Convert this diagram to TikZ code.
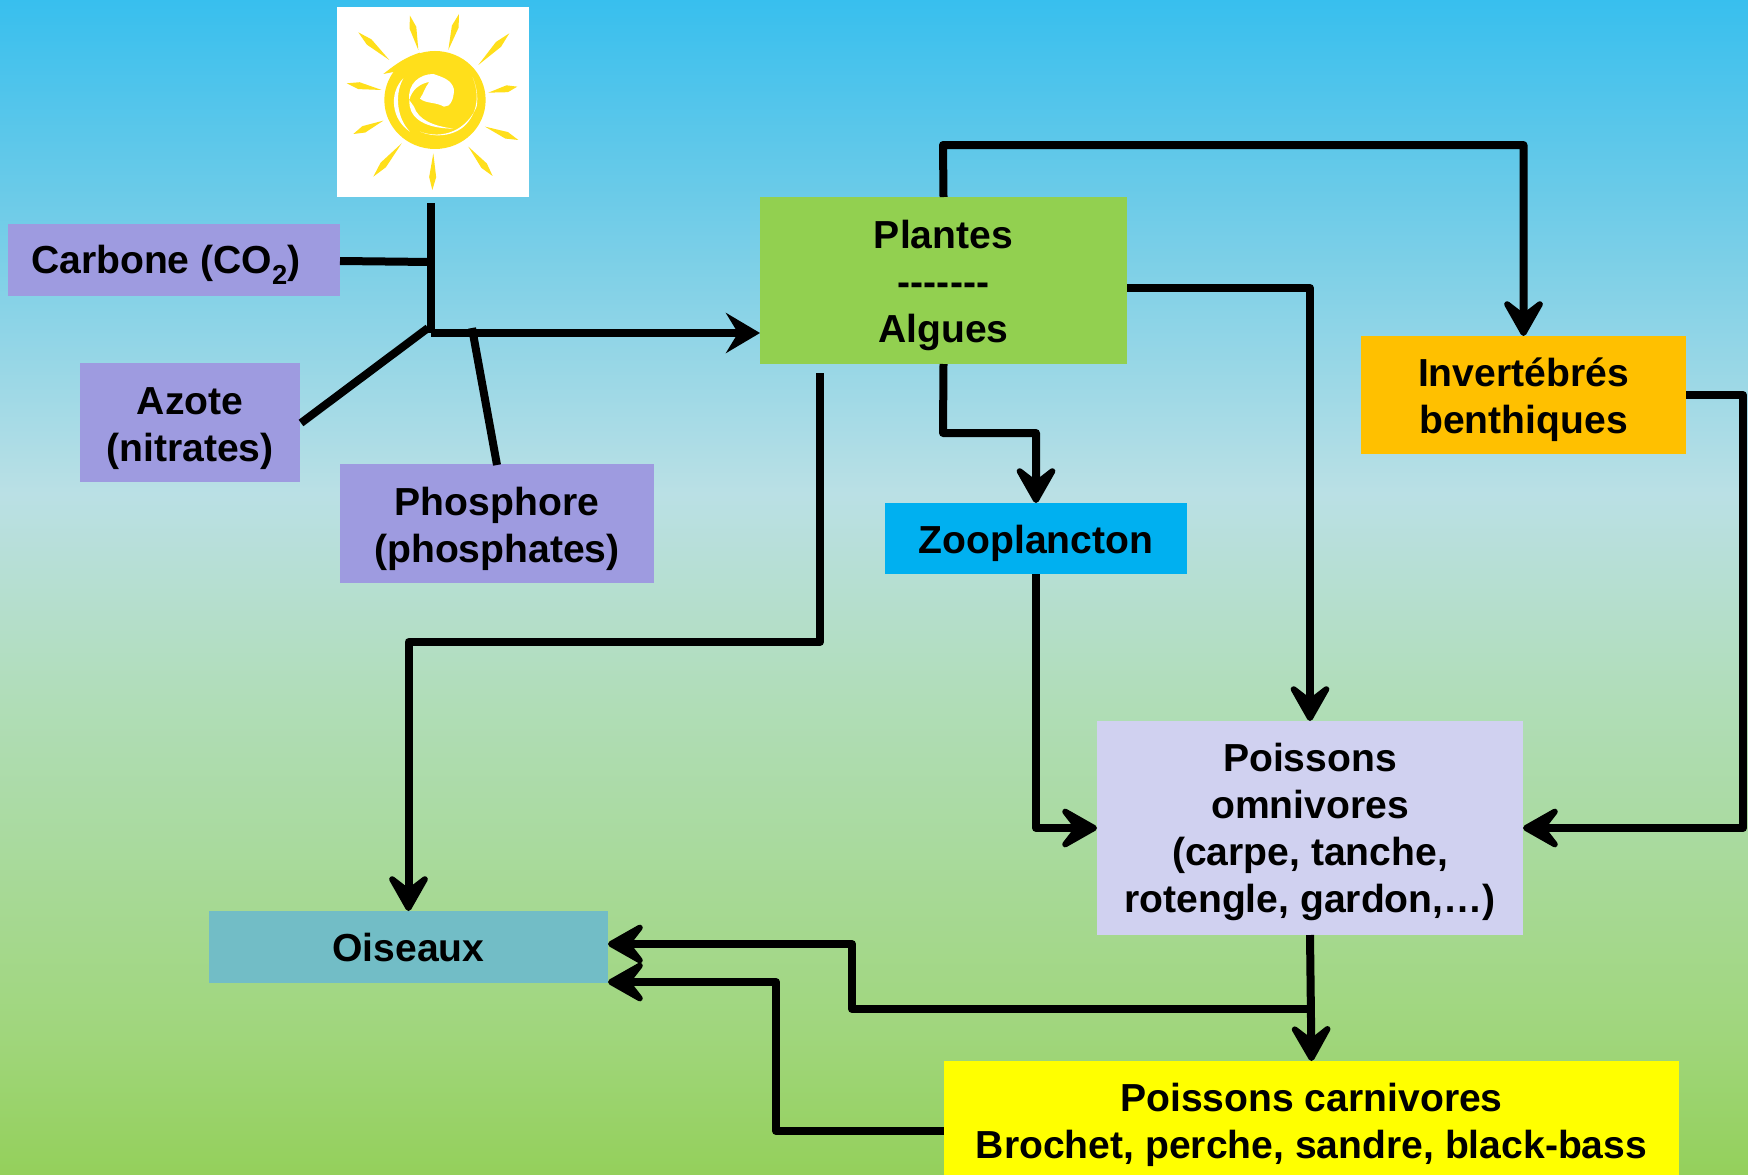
\documentclass[tikz,border=0pt]{standalone}
\usepackage{fontspec}
\setmainfont{Liberation Sans}
\usetikzlibrary{arrows.meta,calc}
\definecolor{bot}{RGB}{148,208,91}
\definecolor{lowb}{RGB}{160,214,124}
\definecolor{lowc}{RGB}{176,221,183}
\definecolor{pale}{RGB}{186,224,229}
\definecolor{upa}{RGB}{108,203,232}
\definecolor{topc}{RGB}{56,191,238}
\pgfdeclareverticalshading{bgshade}{100bp}{
  color(0bp)=(bot);color(25bp)=(bot);color(31bp)=(lowb);color(45bp)=(lowc);color(54bp)=(pale);color(66.5bp)=(upa);color(75bp)=(topc);color(100bp)=(topc)}
\definecolor{nutrient}{RGB}{158,155,224}
\definecolor{plante}{RGB}{146,208,80}
\definecolor{invert}{RGB}{255,192,0}
\definecolor{zoo}{RGB}{0,176,240}
\definecolor{omni}{RGB}{208,209,240}
\definecolor{oiseau}{RGB}{114,189,198}
\definecolor{carni}{RGB}{255,255,0}
\definecolor{soleil}{RGB}{255,223,27}
\newcommand{\topstrut}[1][38pt]{\rule{0pt}{#1}}
\newcommand{\botstrut}{\rule[-8pt]{0pt}{8pt}}
\tikzset{
  box/.style n args={3}{draw=none,fill=#1,minimum width=#2,minimum height=#3,inner sep=0pt,outer sep=0pt,align=center,
    font=\fontsize{39.1}{47}\selectfont\bfseries},
  conn/.style={line width=8pt,line join=round,draw=black},
  arr/.style={conn,-{Stealth[length=46pt,width=52pt,inset=20pt,round,line width=6pt]}},
  arrs/.style={conn,-{Stealth[length=34pt,width=40pt,inset=12pt]}},
  ray/.style={fill=soleil,draw=none}
}
\begin{document}
\begin{tikzpicture}[x=1pt,y=-1pt]
\useasboundingbox (0,0) rectangle (1748,1175);
\shade[shading=bgshade] (0,0) rectangle (1748,1175);
% sun
\node[box={white}{192pt}{190pt}] (sun) at (433,102) {};
\begin{scope}[shift={(320,0)},x=0.3333pt,y=-0.3333pt]
  \foreach \ax/\ay/\bx/\by in {270/47/295/150,417/42/385/150,568/100/475/195,592/260/505/278,595/420/495/380,518/528/445/440,337/570/340/460,160/530/245/430,100/402/190/362,80/250/185/270,115/97/208/180}{
    \fill[ray] (\ax,\ay) -- ($(\ax,\ay)!0.35!(\bx,\by)!3.5pt!90:(\bx,\by)$) -- (\bx,\by) -- ($(\ax,\ay)!0.35!(\bx,\by)!3.5pt!-90:(\bx,\by)$) -- cycle;
  }
  \fill[soleil] (345,300) ellipse[x radius=152,y radius=147];
  \fill[soleil] (190,222) .. controls (230,190) and (260,170) .. (300,158) -- (300,200) -- cycle;
  % swirl
  \fill[white] (300,296) .. controls (312,278) and (315,262) .. (328,246)
     .. controls (300,250) and (275,270) .. (268,300)
     .. controls (262,250) and (300,222) .. (340,222)
     .. controls (370,232) and (395,240) .. (402,268)
     .. controls (402,295) and (392,322) .. (372,320)
     .. controls (345,305) and (320,312) .. (300,296) -- cycle;
  \fill[white] (268,300) .. controls (265,345) and (300,385) .. (400,386)
     .. controls (340,378) and (295,360) .. (282,320) -- cycle;
  \fill[white] (250,235) .. controls (205,280) and (215,360) .. (270,395)
     .. controls (235,360) and (220,290) .. (250,235) -- cycle;
  \fill[white] (300,395) .. controls (370,420) and (440,390) .. (470,320)
     .. controls (475,290) and (470,260) .. (458,232)
     .. controls (482,290) and (470,350) .. (425,385)
     .. controls (390,410) and (340,412) .. (300,395) -- cycle;
\end{scope}
% boxes
\node[box={nutrient}{332pt}{72pt}] (carbone) at (174,260) {\topstrut Carbone (CO\textsubscript{2})\hspace*{16pt}\botstrut};
\node[box={nutrient}{220pt}{119pt}] (azote) at (190,422.5) {\topstrut[40pt]Azote\\(nitrates)\botstrut};
\node[box={nutrient}{314pt}{119pt}] (phosphore) at (497,523.5) {\topstrut[40pt]Phosphore\\(phosphates)\botstrut};
\node[box={plante}{367pt}{167pt}] (plantes) at (943.5,280.5) {\topstrut Plantes\\-{}-{}-{}-{}-{}-{}-\\Algues\botstrut};
\node[box={invert}{325pt}{118pt}] (invert) at (1523.5,395) {\topstrut Invertébrés\\benthiques\botstrut};
\node[box={zoo}{302pt}{71pt}] (zoo) at (1036,538.5) {\topstrut Zooplancton\botstrut};
\node[box={omni}{426pt}{214pt}] (omni) at (1310,828) {\topstrut[36pt]Poissons\\omnivores\\(carpe, tanche,\\rotengle, gardon,…)\botstrut};
\node[box={oiseau}{399pt}{72pt}] (oiseaux) at (408.5,947) {\topstrut[36pt]Oiseaux\botstrut};
\node[box={carni}{735pt}{119pt}] (carni) at (1311.5,1120.5) {\topstrut Poissons carnivores\\Brochet, perche, sandre, black-bass\botstrut};
% free points
\coordinate (suntail) at (431,203);
\coordinate (jn) at (431,333);
\coordinate (jnend) at (760,333);
\coordinate (pl) at (497,465);
\coordinate (ptop) at (472,328);
\coordinate (az) at (301,423);
\coordinate (aztop) at (428,328);
\coordinate (ca) at (431,262);
\coordinate (cb) at (340,261);
\coordinate (pgauche) at (820,373);
\coordinate (pgb) at (820,642);
\coordinate (pdroit) at (1127,288);
\coordinate (ptopc) at (943,145);
\coordinate (pbot) at (943,433);
\coordinate (ir) at (1743,395);
\coordinate (branche) at (1311,1009);
\coordinate (b1) at (852,1009);
\coordinate (b2) at (852,944);
\coordinate (oh) at (608,944);
\coordinate (ob) at (608,982);
\coordinate (cg) at (944,1131);
\coordinate (c1) at (776,1131);
\coordinate (c2) at (776,982);
% connectors
\draw[conn] (suntail) -- (jn);
\draw[arrs] (jn) -- (jnend);
\draw[conn] (cb) -- (ca);
\draw[conn] (az) -- (aztop);
\draw[conn] (pl) -- (ptop);
\draw[arr] (plantes.north) -- (ptopc) -| (invert.north);
\draw[arr] (pdroit) -| (omni.north);
\draw[arr] (plantes.south) -- (pbot) -| (zoo.north);
\draw[arr] (pgauche) -- (pgb) -| (oiseaux.north);
\draw[arr] (invert.east) -- (ir) |- (omni.east);
\draw[arr] (zoo.south) |- (omni.west);
\draw[arr] (omni.south) -- (carni.north);
\draw[arr] (branche) -- (b1) -- (b2) -- (oh);
\draw[arr] (cg) -- (c1) -- (c2) -- (ob);
\end{tikzpicture}
\end{document}
